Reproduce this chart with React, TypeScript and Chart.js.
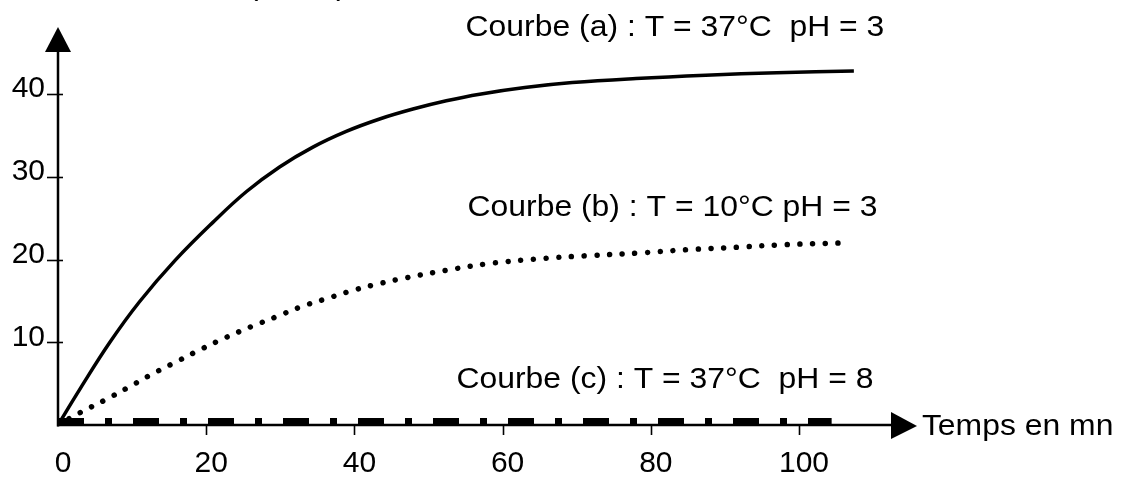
import React, { useEffect, useRef } from "react";
import { Chart, registerables } from "chart.js";

Chart.register(...registerables);

// ---- Data ----
const timeA = [0, 3, 7, 11, 15.8, 20.9, 25.4, 29.9, 34.4, 38.9, 43.4, 47.9, 52.4, 56.9, 63, 69.4, 78, 87.4, 97, 107.4];
const valuesA = [0, 4.4, 10, 14.9, 19.9, 24.5, 28.2, 31.2, 33.6, 35.5, 37.0, 38.2, 39.2, 40.0, 40.8, 41.4, 41.9, 42.3, 42.6, 42.8];

const timeB = [0, 3, 6.3, 9.6, 12.8, 16.1, 19.4, 22.7, 26.1, 29.5, 32.8, 36.3, 39.9, 43.4, 47, 52.4, 58, 65, 72, 78.4, 85, 91.9, 98, 105.4];
const valuesB = [0, 1.5, 3.0, 4.6, 6.2, 7.7, 9.2, 10.6, 11.9, 13.1, 14.3, 15.3, 16.3, 17.1, 17.8, 18.7, 19.5, 20.1, 20.5, 20.8, 21.2, 21.5, 21.8, 22.0];

const timeC = [0, 104.4];
const valuesC = [0.45, 0.45];

const xTickValues = [0, 20, 40, 60, 80, 100];
const yTickValues = [10, 20, 30, 40];

const noteTexts = [
  "Courbe (a) : T = 37°C  pH = 3",
  "Courbe (b) : T = 10°C pH = 3",
  "Courbe (c) : T = 37°C  pH = 8",
  "Temps en mn",
  "(mmol)",
];
const noteX = [55.0, 55.26, 53.77, 116.58, 25.6];
const noteY = [47.04, 25.27, 4.47, -1.21, 51.95];

const X_MAX = 114.3;
const Y_MAX = 46.55;

const FONT = '"Liberation Sans", Arial, Helvetica, sans-serif';

const overlayPlugin = {
  id: "overlay",
  afterDraw(chart: any) {
    const { ctx, chartArea } = chart;
    const x = chart.scales.x;
    const y = chart.scales.y;
    const ox = x.getPixelForValue(0);
    const oy = y.getPixelForValue(0);
    ctx.save();
    ctx.fillStyle = "#000";
    ctx.strokeStyle = "#000";

    // axis lines
    ctx.lineWidth = 2.5;
    ctx.beginPath();
    ctx.moveTo(ox, oy + 1.5);
    ctx.lineTo(ox, chartArea.top - 2);
    ctx.stroke();
    ctx.beginPath();
    ctx.moveTo(ox - 1, oy);
    ctx.lineTo(chartArea.right - 10, oy);
    ctx.stroke();

    // arrows
    ctx.beginPath();
    ctx.moveTo(ox, chartArea.top - 13);
    ctx.lineTo(ox - 13, chartArea.top + 12);
    ctx.lineTo(ox + 13, chartArea.top + 12);
    ctx.closePath();
    ctx.fill();
    ctx.beginPath();
    ctx.moveTo(chartArea.right + 12, oy + 1);
    ctx.lineTo(chartArea.right - 14, oy - 13);
    ctx.lineTo(chartArea.right - 14, oy + 14);
    ctx.closePath();
    ctx.fill();

    // tick marks
    ctx.lineWidth = 1.6;
    yTickValues.forEach((v) => {
      const py = Math.round(y.getPixelForValue(v)) + 0.5;
      ctx.beginPath();
      ctx.moveTo(ox - 11, py);
      ctx.lineTo(ox + 5, py);
      ctx.stroke();
    });
    xTickValues
      .filter((v) => v > 0)
      .forEach((v) => {
        const px = Math.round(x.getPixelForValue(v)) + 0.5;
        ctx.beginPath();
        ctx.moveTo(px, oy + 1);
        ctx.lineTo(px, oy + 10);
        ctx.stroke();
      });

    // annotations
    ctx.font = `29px ${FONT}`;
    ctx.textAlign = "left";
    ctx.textBaseline = "alphabetic";
    noteTexts.forEach((t, i) => {
      const px = x.getPixelForValue(noteX[i]);
      const py = y.getPixelForValue(noteY[i]);
      ctx.save();
      ctx.translate(px, py);
      ctx.scale(1.1, 1);
      ctx.fillText(t, 0, 0);
      ctx.restore();
    });
    ctx.restore();
  },
};

export default function App() {
  const canvasRef = useRef<HTMLCanvasElement | null>(null);

  useEffect(() => {
    const canvas = canvasRef.current;
    if (!canvas) return;
    const chart = new Chart(canvas, {
      type: "line",
      data: {
        datasets: [
          {
            label: "Courbe (a)",
            data: timeA.map((t, i) => ({ x: t, y: valuesA[i] })),
            borderColor: "#000",
            borderWidth: 3.5,
            pointRadius: 0,
            tension: 0.4,
            fill: false,
          },
          {
            label: "Courbe (b)",
            data: timeB.map((t, i) => ({ x: t, y: valuesB[i] })),
            borderColor: "#000",
            borderWidth: 5.5,
            borderDash: [0.01, 12.7],
            borderCapStyle: "round",
            pointRadius: 0,
            tension: 0.4,
            fill: false,
          },
          {
            label: "Courbe (c)",
            data: timeC.map((t, i) => ({ x: t, y: valuesC[i] })),
            borderColor: "#000",
            borderWidth: 6.5,
            borderDash: [26, 21, 7, 21],
            borderCapStyle: "butt",
            pointRadius: 0,
            fill: false,
          },
        ],
      },
      options: {
        responsive: false,
        animation: false,
        events: [],
        layout: { padding: { left: 0, top: 40, right: 218, bottom: 0 } },
        plugins: {
          legend: { display: false },
          tooltip: { enabled: false },
        },
        scales: {
          x: {
            type: "linear",
            min: 0,
            max: X_MAX,
            grid: { display: false, drawTicks: false },
            border: { display: false },
            ticks: {
              color: "#000",
              font: { size: 30, family: FONT },
              padding: 21,
              labelOffset: 5,
              maxRotation: 0,
              autoSkip: false,
            },
            afterBuildTicks: (s: any) => {
              s.ticks = xTickValues.map((v) => ({ value: v }));
            },
            afterFit: (s: any) => {
              s.height = 55;
            },
          },
          y: {
            type: "linear",
            min: 0,
            max: Y_MAX,
            grid: { display: false, drawTicks: false },
            border: { display: false },
            ticks: {
              color: "#000",
              font: { size: 30, family: FONT },
              padding: 13,
              labelOffset: -5,
              autoSkip: false,
            },
            afterBuildTicks: (s: any) => {
              s.ticks = yTickValues.map((v) => ({ value: v }));
            },
            afterFit: (s: any) => {
              s.width = 58;
            },
          },
        },
      } as any,
      plugins: [overlayPlugin],
    });
    return () => chart.destroy();
  }, []);

  return (
    <div style={{ position: "fixed", left: 0, top: 0, width: 1123, height: 480, background: "#fff" }}>
      <canvas ref={canvasRef} width={1123} height={480} style={{ display: "block" }} />
    </div>
  );
}
